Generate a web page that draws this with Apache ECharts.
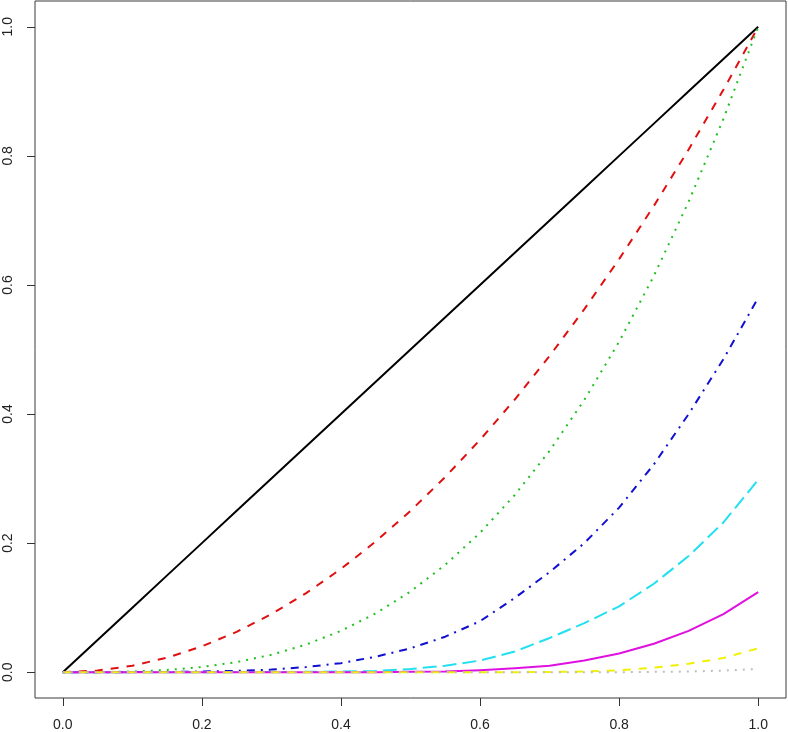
<!DOCTYPE html>
<html>
<head>
<meta charset="utf-8">
<script src="https://cdn.jsdelivr.net/npm/echarts@6/dist/echarts.min.js"></script>
<style>
html,body{margin:0;padding:0;background:#fff;}
#chart{width:788px;height:732px;}
</style>
</head>
<body>
<div id="chart"></div>
<script>
var xs = [0,0.05,0.1,0.15,0.2,0.25,0.3,0.35,0.4,0.45,0.5,0.55,0.6,0.65,0.7,0.75,0.8,0.85,0.9,0.95,1.0];
var blackVals   = [0,0.05,0.1,0.15,0.2,0.25,0.3,0.35,0.4,0.45,0.5,0.55,0.6,0.65,0.7,0.75,0.8,0.85,0.9,0.95,1.0];
var redVals     = [0,0.0025,0.01,0.0225,0.04,0.0625,0.09,0.1225,0.16,0.2025,0.25,0.3025,0.36,0.4225,0.49,0.5625,0.64,0.7225,0.81,0.9025,1.0];
var greenVals   = [0,0.0001,0.001,0.0034,0.008,0.0156,0.027,0.0429,0.064,0.0911,0.125,0.1664,0.216,0.2746,0.343,0.4219,0.512,0.6141,0.729,0.8574,1.0];
var blueVals    = [0,0,0.0001,0.0003,0.001,0.002,0.004,0.008,0.014,0.024,0.037,0.055,0.079,0.115,0.155,0.2,0.255,0.322,0.40,0.485,0.58];
var cyanVals    = [0,0,0,0,0,0.0001,0.0002,0.0005,0.001,0.002,0.005,0.01,0.018,0.032,0.053,0.076,0.102,0.137,0.18,0.232,0.298];
var magentaVals = [0,0,0,0,0,0,0,0,0,0,0.0005,0.001,0.003,0.006,0.01,0.018,0.029,0.044,0.064,0.09,0.124];
var yellowVals  = [0,0,0,0,0,0,0,0,0,0,0,0,0,0,0.0003,0.001,0.003,0.007,0.013,0.022,0.037];
var grayVals    = [0,0,0,0,0,0,0,0,0,0,0,0,0,0,0,0,0,0.0005,0.001,0.0025,0.005];
var xTicks = [0,0.2,0.4,0.6,0.8,1.0];
var yTicks = [0,0.2,0.4,0.6,0.8,1.0];

function pairs(v){ return xs.map(function(x,i){ return [x, v[i]]; }); }
function mk(name, vals, color, type){
  return {
    name: name, type: 'line', data: pairs(vals), showSymbol: false, symbol: 'none',
    smooth: false, animation: false,
    lineStyle: { color: color, width: 2, type: type, cap: 'butt', join: 'round' }
  };
}
var chart = echarts.init(document.getElementById('chart'), null, {renderer: 'canvas'});
var font = '"Liberation Sans", Arial, sans-serif';
chart.setOption({
  animation: false,
  grid: { left: 35, right: 2, top: 1, bottom: 34, show: true, borderColor: '#3a3a3a', borderWidth: 1,
    backgroundColor: 'transparent', containLabel: false, outerBoundsMode: 'none' },
  xAxis: {
    type: 'value', min: -0.04, max: 1.04,
    axisLine: { show: false, onZero: false },
    splitLine: { show: false },
    axisTick: { show: true, customValues: xTicks, length: 8, inside: false, lineStyle: { color: '#333', width: 1 } },
    axisLabel: { customValues: xTicks, margin: 20, color: '#222', fontSize: 14, fontFamily: font,
      formatter: function(v){ return v.toFixed(1); } }
  },
  yAxis: {
    type: 'value', min: -0.04, max: 1.04,
    axisLine: { show: false, onZero: false },
    splitLine: { show: false },
    axisTick: { show: true, customValues: yTicks, length: 8, inside: false, lineStyle: { color: '#333', width: 1 } },
    axisLabel: { customValues: yTicks, margin: 20, rotate: 90, color: '#222', fontSize: 14, fontFamily: font,
      formatter: function(v){ return v.toFixed(1); } }
  },
  series: [
    mk('s1', blackVals, '#000000', 'solid'),
    mk('s2', redVals, '#e01010', [8,8]),
    mk('s3', greenVals, '#1ec01e', [2,6]),
    mk('s4', blueVals, '#1010d0', [2,6,8,6]),
    mk('s5', cyanVals, '#22e0f0', [14,6]),
    mk('s6', magentaVals, '#e010e0', 'solid'),
    mk('s7', yellowVals, '#f0f000', [8,8]),
    mk('s8', grayVals, '#bebebe', [2,6])
  ]
});
</script>
</body>
</html>
